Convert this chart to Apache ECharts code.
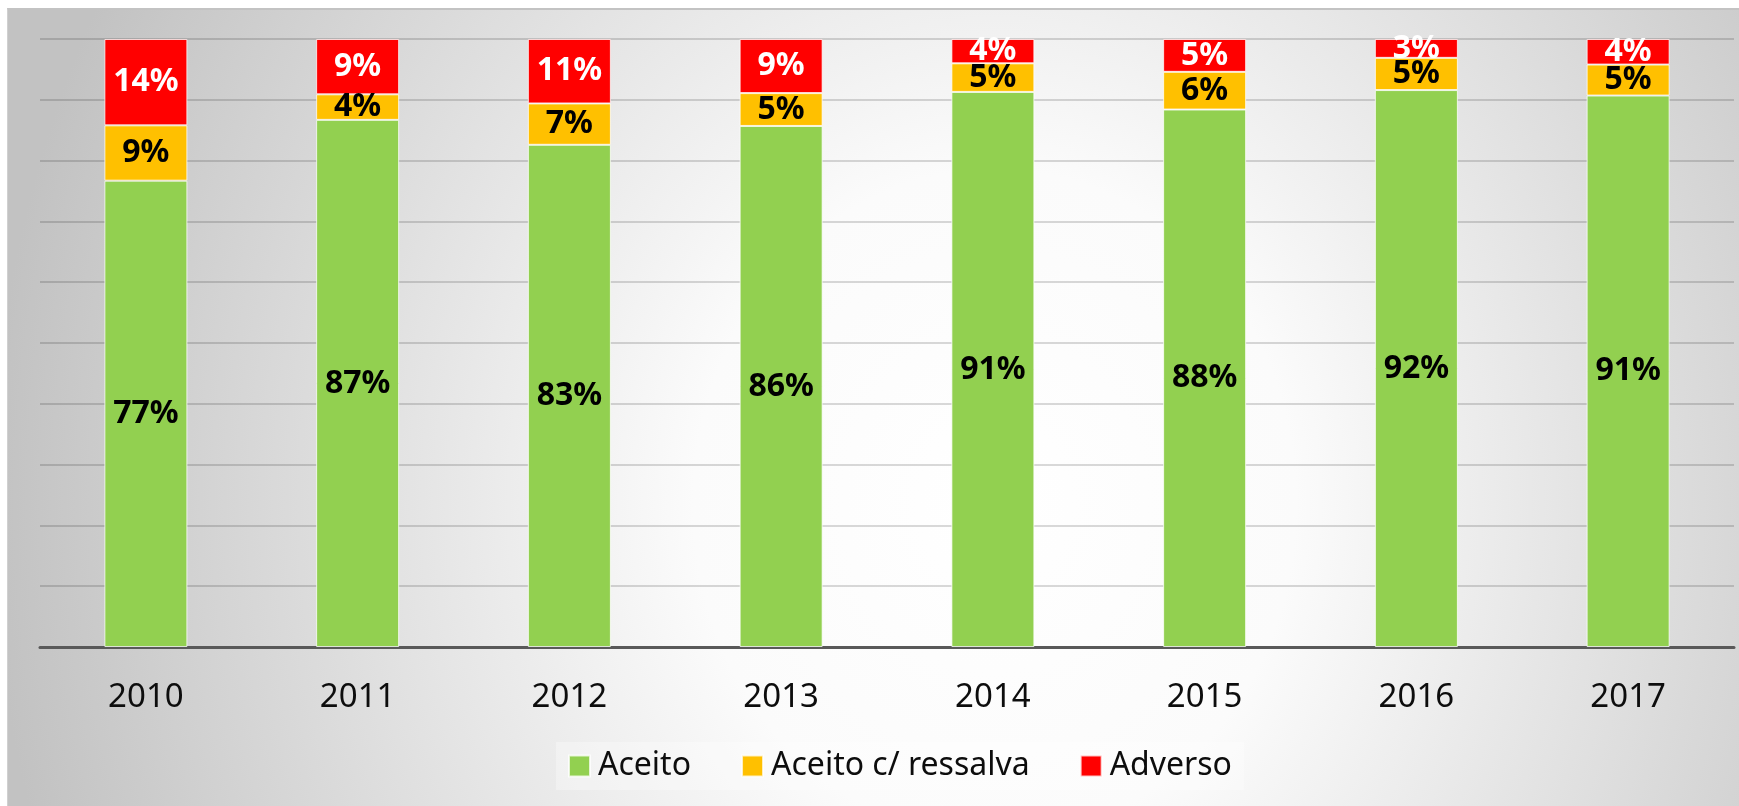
<!DOCTYPE html>
<html>
<head>
    <meta charset="utf-8">
    <title>Parecer</title>
    <style>
        html, body {
            margin: 0;
            padding: 0;
            width: 100%;
            height: 100%;
            background: #ffffff;
            overflow: hidden;
        }
        /* moldura com degradê radial, como no gráfico original */
        #chart {
            position: absolute;
            left: 7px;
            top: 8px;
            width: 1732px;
            height: 798px;
            border-top: 2px solid #c3c3c3;
            border-left: 1px solid #d0d0d0;
            box-sizing: border-box;
            background: radial-gradient(ellipse 58% 140% at 57% 62%, #ffffff 0%, #fbfbfb 30%, #c2c2c2 100%);
        }
    </style>
</head>
<body>
    <div id="chart"></div>
    <script src="https://cdn.jsdelivr.net/npm/echarts@6/dist/echarts.min.js"></script>
    <script type="text/javascript">
        // dados (percentual de cada parecer por ano)
        var anos = ['2010', '2011', '2012', '2013', '2014', '2015', '2016', '2017'];
        var aceito = [76.7, 86.7, 82.6, 85.7, 91.3, 88.4, 91.6, 90.7];
        var aceitoRessalva = [9.1, 4.2, 6.8, 5.4, 4.7, 6.2, 5.3, 5.1];
        var adverso = [14.2, 9.1, 10.6, 8.9, 4.0, 5.4, 3.1, 4.2];
        var ticksY = [0, 100, 10]; // min, max, intervalo

        var myChart = echarts.init(document.getElementById('chart'));

        var fmt = function (p) {
            return Math.round(p.value) + '%';
        };

        function serie(nome, dados, cor, corTexto) {
            return {
                name: nome,
                type: 'bar',
                stack: 'total',
                barWidth: 83,
                data: dados,
                itemStyle: {
                    color: cor,
                    borderColor: 'rgba(255,255,255,0.75)',
                    borderWidth: 1
                },
                label: {
                    show: true,
                    position: 'inside',
                    formatter: fmt,
                    color: corTexto,
                    fontFamily: 'Noto Sans',
                    fontWeight: 'bold',
                    fontSize: 32
                }
            };
        }

        myChart.setOption({
            animation: false,
            grid: {
                left: 32,
                right: 5,
                top: 29,
                bottom: 159
            },
            legend: {
                left: 548,
                top: 732,
                icon: 'rect',
                itemWidth: 21,
                itemHeight: 21,
                itemGap: 50,
                backgroundColor: 'rgba(255,255,255,0.3)',
                padding: [8, 12],
                textStyle: {
                    fontFamily: 'Noto Sans',
                    fontSize: 32,
                    color: '#0d0d0d',
                    padding: [0, 0, 0, 3]
                },
                data: ['Aceito', 'Aceito c/ ressalva', 'Adverso']
            },
            xAxis: {
                type: 'category',
                data: anos,
                axisTick: { show: false },
                axisLine: {
                    lineStyle: { color: '#595959', width: 3 }
                },
                axisLabel: {
                    margin: 34,
                    fontFamily: 'Noto Sans',
                    fontSize: 33,
                    color: '#0d0d0d'
                }
            },
            yAxis: {
                type: 'value',
                min: ticksY[0],
                max: ticksY[1],
                interval: ticksY[2],
                axisLine: { show: false },
                axisTick: { show: false },
                axisLabel: { show: false },
                splitLine: {
                    lineStyle: { color: 'rgba(0,0,0,0.2)', width: 1.5 }
                }
            },
            series: [
                serie('Aceito', aceito, '#92D050', '#000000'),
                serie('Aceito c/ ressalva', aceitoRessalva, '#FFC000', '#000000'),
                serie('Adverso', adverso, '#FF0000', '#ffffff')
            ]
        });
    </script>
</body>
</html>
